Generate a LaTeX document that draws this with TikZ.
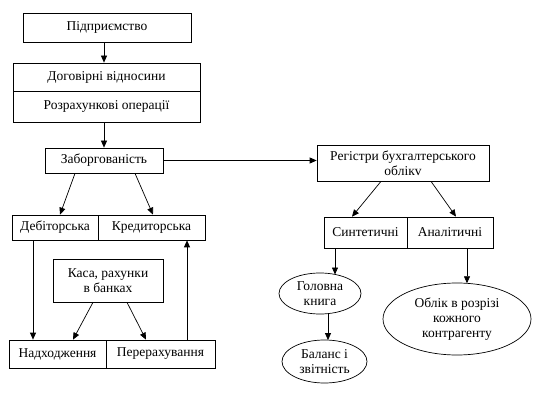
\documentclass[tikz,border=0pt]{standalone}
\usepackage{fontspec}
\setmainfont{Liberation Serif}
\usetikzlibrary{arrows.meta,shapes.geometric,calc}
\begin{document}
\begin{tikzpicture}[x=1pt,y=-1pt,
  txt/.style={font=\fontsize{13.5}{15}\selectfont,align=center},
  box/.style={draw,line width=0.7pt,inner sep=1pt,txt},
  ell/.style={draw,ellipse,line width=0.7pt,inner sep=0pt},
  arr/.style={line width=0.7pt,-{Triangle[length=7pt,width=6pt]}}]
\useasboundingbox (0,0) rectangle (535,395);
\node[box,minimum width=168,minimum height=29] (pid) at (107,27.5) {Підприємство};
\node[box,minimum width=187,minimum height=28] (dog) at (106.5,77) {Договірні відносини};
\node[box,minimum width=187,minimum height=31] (roz) at (106.5,106.5) {Розрахункові операції};
\node[box,minimum width=118,minimum height=25] (zab) at (104,160.5) {Заборгованість};
\node[box,minimum width=86,minimum height=25] (deb) at (55,227.5) {Дебіторська};
\node[box,minimum width=107,minimum height=25] (kred) at (151.5,227.5) {Кредиторська};
\node[box,minimum width=110,minimum height=43] (kasa) at (108,280.5) {Каса, рахунки\\в банках};
\node[box,minimum width=97,minimum height=28] (nad) at (57.5,354) {Надходження};
\node[box,minimum width=109,minimum height=28] (per) at (160.5,354) {Перерахування};
\node[box,minimum width=172,minimum height=36] (reg) at (403,163) {Регістри бухгалтерського\\облікv};
\node[box,minimum width=83,minimum height=31] (syn) at (365.5,232.5) {Синтетичні};
\node[box,minimum width=86,minimum height=31] (anal) at (450,232.5) {Аналітичні};
\node[ell,minimum width=82,minimum height=41,label={[txt]center:Головна\\книга}] (gol) at (320,293.5) {};
\node[ell,minimum width=85,minimum height=43,label={[txt]center:Баланс і\\звітність}] (bal) at (324.5,361.5) {};
\node[ell,minimum width=148,minimum height=72,label={[txt]center:Облік в розрізі\\кожного\\контрагенту}] (obl) at (457,319) {};
\draw[arr] ([xshift=-3]pid.south) -- ([xshift=-3]pid.south |- dog.north);
\draw[arr] ([xshift=-2.5]roz.south) -- ([xshift=-2.5]roz.south |- zab.north);
\draw[arr] (zab.east) -- (zab.east -| reg.west);
\draw[arr] ([xshift=-29]zab.south) -- ([xshift=5]deb.north);
\draw[arr] ([xshift=31]zab.south) -- ([xshift=1.5]kred.north);
\draw[arr] ([xshift=-22]deb.south) -- ([xshift=-22]deb.south |- nad.north);
\draw[arr] ([xshift=-15]kasa.south) -- ([xshift=15.5]nad.north);
\draw[arr] ([xshift=19]kasa.south) -- ([xshift=-14.5]per.north);
\draw[arr] ([xshift=26.5]per.north) -- ([xshift=26.5]per.north |- kred.south);
\draw[arr] ([xshift=-22]reg.south) -- ([xshift=-13.5]syn.north);
\draw[arr] ([xshift=28]reg.south) -- ([xshift=6]anal.north);
\draw[arr] ([xshift=-30.5]syn.south) -- ($(gol.center)+(15,-19)$);
\draw[arr] ($(gol.center)+(8,20)$) -- ($(bal.center)+(3.5,-21.4)$);
\draw[arr] ([xshift=17]anal.south) -- ($(obl.center)+(10,-35.7)$);
\end{tikzpicture}
\end{document}
